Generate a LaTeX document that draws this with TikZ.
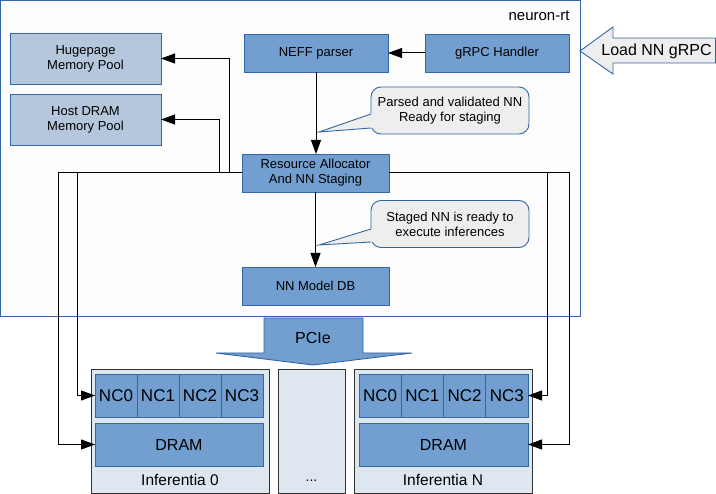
\documentclass[tikz,border=0pt]{standalone}
\usepackage{fontspec}
\setmainfont{Liberation Sans}
\usetikzlibrary{arrows.meta,calc}
\definecolor{boxfill}{HTML}{729FCF}
\definecolor{boxline}{HTML}{3465A4}
\definecolor{poolfill}{HTML}{B4C7DC}
\definecolor{chipfill}{HTML}{DEE6EF}
\definecolor{notefill}{HTML}{EEEEEE}
\definecolor{framefill}{HTML}{FDFDFD}
\definecolor{chipline}{HTML}{333333}
\begin{document}
\begin{tikzpicture}[x=1pt,y=-1pt,
  every node/.style={inner sep=0pt,outer sep=0pt},
  box/.style={draw=boxline,fill=boxfill,line width=0.9pt,align=center,anchor=north west,font=\fontsize{13}{15}\selectfont},
  pool/.style={box,fill=poolfill},
  cell/.style={draw=boxline,fill=boxfill,line width=0.9pt,anchor=north west,minimum width=42,minimum height=43,font=\fontsize{17}{19}\selectfont},
  mem/.style={draw=boxline,fill=boxfill,line width=0.9pt,anchor=north west,minimum height=43,font=\fontsize{16}{18}\selectfont},
  chip/.style={draw=chipline,fill=chipfill,line width=0.9pt,anchor=north west,minimum width=178,minimum height=124},
  note/.style={draw=boxline,fill=notefill,line width=0.9pt,rounded corners=10pt,align=center,minimum width=158,minimum height=47,font=\fontsize{13}{15}\selectfont},
  big/.style={font=\fontsize{16}{18}\selectfont},
  arr/.style={-{Triangle[length=14pt,width=10pt]},line width=1pt,black}]
\useasboundingbox (0,0) rectangle (716,494);
% frame
\draw[boxline,fill=framefill,line width=0.9pt] (0.5,0.5) rectangle (580,316);
\node[font=\fontsize{15}{17}\selectfont] (lbl) at (539,16) {neuron-rt};
% boxes
\node[pool,minimum width=151,minimum height=51] (huge) at (10,33) {Hugepage\\Memory Pool};
\node[pool,minimum width=151,minimum height=51] (hdram) at (10,94) {Host DRAM\\Memory Pool};
\node[box,minimum width=144,minimum height=38] (neff) at (244,34) {NEFF parser};
\node[box,minimum width=144,minimum height=38] (grpc) at (425,34) {gRPC Handler};
\node[box,minimum width=147,minimum height=38] (res) at (242,154) {Resource Allocator\\And NN Staging};
\node[box,minimum width=147,minimum height=38] (db) at (242,267) {NN Model DB};
% callouts
\node[note] (c1) at (450,110.5) {Parsed and validated NN\\Ready for staging};
\fill[notefill] (319,132) -- (373,113.3) -- (373,127.9) -- cycle;
\draw[boxline,line width=0.9pt] (371,114) -- (319,132) -- (371,128);
\node[note] (c2) at (450,224) {Staged NN is ready to\\execute inferences};
\fill[notefill] (319,245) -- (373,228.4) -- (373,241.9) -- cycle;
\draw[boxline,line width=0.9pt] (371,229) -- (319,245) -- (371,242);
% Load NN gRPC arrow
\draw[boxline,fill=notefill,line width=0.9pt] (580,51) -- (613,27) -- (613,38) -- (715.5,38) -- (715.5,63) -- (613,63) -- (613,74) -- cycle;
\node[big] (load) at (656.5,51) {Load NN gRPC};
% PCIe arrow
\draw[boxline,fill=boxfill,line width=0.9pt] (264,318) -- (363,318) -- (363,353) -- (412,353) -- (313,365) -- (216,353) -- (264,353) -- cycle;
\node[big] (pcie) at (313,338) {PCIe};
% Inferentia 0
\node[chip] (inf0) at (91,369) {};
\node[cell] (a0) at (95,374) {NC0};
\node[cell] (a1) at (137,374) {NC1};
\node[cell] (a2) at (179,374) {NC2};
\node[cell] (a3) at (221,374) {NC3};
\node[mem,minimum width=168] (dram0) at (95,423) {DRAM};
\node[font=\fontsize{15.5}{17}\selectfont] (l0) at (180,480) {Inferentia 0};
% dots
\node[chip,minimum width=67] (mid) at (278,369) {};
\node[font=\fontsize{14}{16}\selectfont] (dots) at (311.5,481) {...};
% Inferentia N
\node[chip] (infn) at (354,369) {};
\node[cell,minimum width=42.25] (b0) at (359,374) {NC0};
\node[cell,minimum width=42.25] (b1) at (401.25,374) {NC1};
\node[cell,minimum width=42.25] (b2) at (443.5,374) {NC2};
\node[cell,minimum width=42.25] (b3) at (485.75,374) {NC3};
\node[mem,minimum width=169] (dramn) at (359,423) {DRAM};
\node[font=\fontsize{15.5}{17}\selectfont] (ln) at (443,480) {Inferentia N};
% connectors
\draw[arr] (grpc.west) -- (neff.east);
\draw[arr] (neff.south) -- (neff.south |- res.north);
\draw[arr] (res.south) -- (res.south |- db.north);
\draw[arr] (res.west) -- ++(-13,0) |- (huge.east);
\draw[arr] (res.west) -- ++(-23,0) |- (hdram.east);
\draw[arr] (res.west) -- ++(-165,0) |- (a0.west);
\draw[arr] (res.west) -- ++(-184,0) |- (dram0.west);
\draw[arr] (res.east) -- ++(158,0) |- (b3.east);
\draw[arr] (res.east) -- ++(180,0) |- (dramn.east);
\end{tikzpicture}
\end{document}
